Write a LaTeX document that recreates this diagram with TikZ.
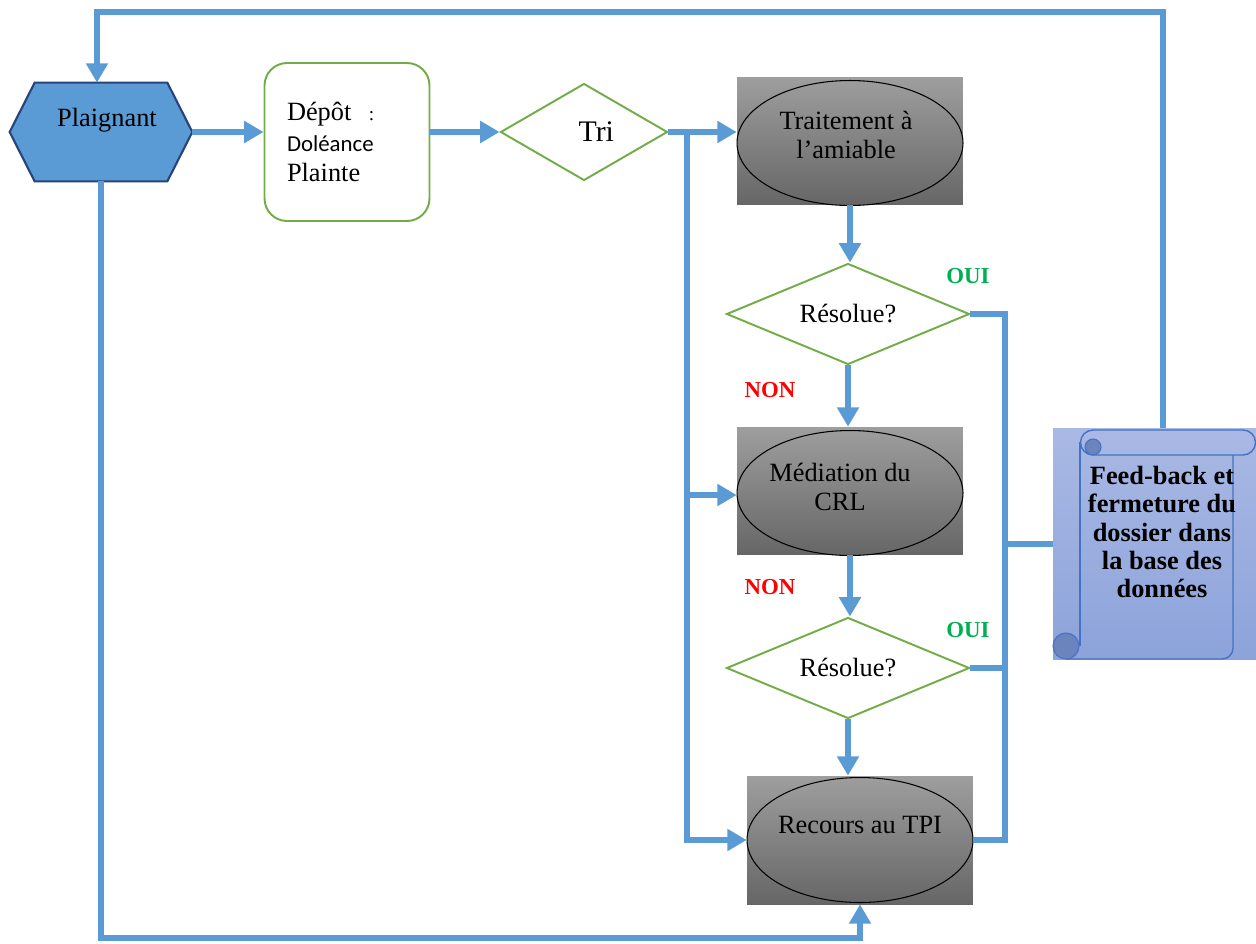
\documentclass[tikz,border=0pt]{standalone}
\usepackage{fontspec}
\setmainfont{Liberation Serif}
\newfontfamily\sansdol{Carlito}
\usetikzlibrary{shapes.geometric,arrows.meta,calc}
\definecolor{flowblue}{RGB}{91,155,213}
\definecolor{hexborder}{RGB}{38,68,120}
\definecolor{leafgreen}{RGB}{112,173,71}
\definecolor{greytop}{RGB}{158,158,158}
\definecolor{greybot}{RGB}{102,102,102}
\definecolor{scrolltop}{RGB}{170,185,228}
\definecolor{scrollbot}{RGB}{140,163,218}
\definecolor{scrollline}{RGB}{68,114,196}
\definecolor{curlfill}{RGB}{108,132,190}
\definecolor{ouigreen}{RGB}{0,176,80}
\definecolor{nonred}{RGB}{255,0,0}

\begin{document}
\begin{tikzpicture}[x=0.02cm, y=-0.02cm,
    flow/.style={line width=3.4pt, flowblue},
    arr/.style={-{Triangle[length=11pt,width=12pt]}},
    txt/.style={font=\fontsize{15}{17}\selectfont, align=center},
    hexbox/.style={rectangle, minimum width=3.64cm, minimum height=1.96cm, inner sep=0},
    depbox/.style={rectangle, rounded corners=0.45cm, draw=leafgreen, line width=1.1pt,
        minimum width=3.3cm, minimum height=3.16cm, inner sep=0, text width=2.4cm, align=left,
        font=\fontsize{15}{17.5}\selectfont},
    stepbox/.style={rectangle, top color=greytop, bottom color=greybot,
        minimum width=4.52cm, minimum height=2.56cm, inner sep=0},
    oval/.style={ellipse, draw=black, line width=0.6pt, minimum width=4.52cm, minimum height=2.5cm, inner sep=0},
    decide/.style={diamond, aspect=2.4, draw=leafgreen, line width=1.1pt, fill=white,
        minimum width=4.86cm, minimum height=2.02cm, inner sep=0, font=\fontsize{15}{17}\selectfont},
    answer/.style={font=\fontsize{13}{15}\selectfont\bfseries},
    scrollbox/.style={rectangle, top color=scrolltop, bottom color=scrollbot,
        minimum width=4.06cm, minimum height=4.64cm, inner sep=0},
    fbtext/.style={font=\fontsize{15}{16}\selectfont\bfseries, align=center}]
    \useasboundingbox (0,0) rectangle (1256,943);

    % Plaignant
    \node[hexbox] (plai) at (101,132) {};
    \draw[hexborder, fill=flowblue, line width=1.2pt] (plai.west) -- ([xshift=0.5cm]plai.north west)
        -- ([xshift=-0.5cm]plai.north east) -- (plai.east) -- ([xshift=-0.5cm]plai.south east)
        -- ([xshift=0.5cm]plai.south west) -- cycle;
    \node[txt] (plaiT) at (107,120) {Plaignant};

    % Depot and tri
    \node[depbox] (depot) at (347,142) {D\'ep\^ot~~{\fontsize{11}{13}\selectfont :}\\{\sansdol\fontsize{13}{15}\selectfont Dol\'eance}\\Plainte};
    \node[decide, aspect=1.7, minimum width=3.34cm, minimum height=1.94cm] (tri) at (584,132) {\fontsize{17}{19}\selectfont\hspace{14pt}Tri};

    % Three treatment steps
    \node[stepbox] (trait) at (850,141) {};
    \node[oval] (traitO) at (850,143) {};
    \node[txt] (traitT) at (846,135) {Traitement \`a\\l’amiable};

    \node[stepbox] (medi) at (850,491) {};
    \node[oval] (mediO) at (850,493) {};
    \node[txt] (mediT) at (840,487) {M\'ediation du\\CRL};

    \node[stepbox] (rec) at (860,840) {};
    \node[oval] (recO) at (860,840) {};
    \node[txt] (recT) at (860,825) {Recours au TPI};

    % Decisions
    \node[decide] (d1) at (848,314) {Résolue?\hspace{10pt}};
    \node[decide] (d2) at (848,668) {Résolue?};
    \node[answer, ouigreen] (oui1) at (968,276) {OUI};
    \node[answer, ouigreen] (oui2) at (968,630) {OUI};
    \node[answer, nonred] (non1) at (770,390) {NON};
    \node[answer, nonred] (non2) at (770,587) {NON};

    % Feed-back scroll
    \node[scrollbox] (fb) at (1154.5,544) {};
    \draw[scrollline, line width=0.8pt] (1093,430) -- (1243,430) arc[start angle=90, end angle=-90, radius=0.25cm]
        -- (1093,455) arc[start angle=270, end angle=90, radius=0.25cm];
    \draw[scrollline, line width=0.8pt] (1080,442) -- (1080,646);
    \draw[scrollline, line width=0.8pt] (1233,455) -- (1233,648) arc[start angle=0, end angle=-90, radius=0.22cm] -- (1066,659);
    \fill[curlfill, draw=scrollline, line width=0.6pt] (1093,447) circle (0.16cm);
    \fill[curlfill, draw=scrollline, line width=0.6pt] (1066,646) circle (0.26cm);
    \node[fbtext] (fbT) at (1162,532) {Feed-back et\\fermeture du\\dossier dans\\la base des\\donn\'ees};

    % Bus points
    \coordinate (busL) at (687,132);
    \coordinate (busM) at (687,495);
    \coordinate (busR) at (1005,840);
    \coordinate (topR) at (1163,12);
    \coordinate (topL) at (97,12);
    \coordinate (botR) at (860,938);

    % Main line
    \draw[flow, arr] (plai.east) -- (plai.east -| depot.west);
    \draw[flow, arr] (depot.east |- tri.west) -- (tri.west);
    \draw[flow, arr] (tri.east) -- (tri.east -| trait.west);
    \draw[flow, arr] (busL) |- (rec.west);
    \draw[flow, arr] (busM) -- (busM -| medi.west);

    % Down the steps
    \draw[flow, arr] (trait.south) -- (trait.south |- d1.north);
    \draw[flow, arr] (d1.south) -- (d1.south |- medi.north);
    \draw[flow, arr] (medi.south) -- (medi.south |- d2.north);
    \draw[flow, arr] (d2.south) -- (d2.south |- rec.north);

    % Right side to the scroll
    \draw[flow] (d1.east) -| (busR) -- (rec.east);
    \draw[flow] (d2.east) -- (d2.east -| busR);
    \draw[flow] (fb.west -| busR) -- (fb.west);

    % Back to the plaignant
    \draw[flow, arr] (fb.north -| topR) -- (topR) -- (topL) -- (topL |- plai.north);
    \draw[flow, arr] (plai.south) |- (botR) -- (rec.south);
\end{tikzpicture}
\end{document}
